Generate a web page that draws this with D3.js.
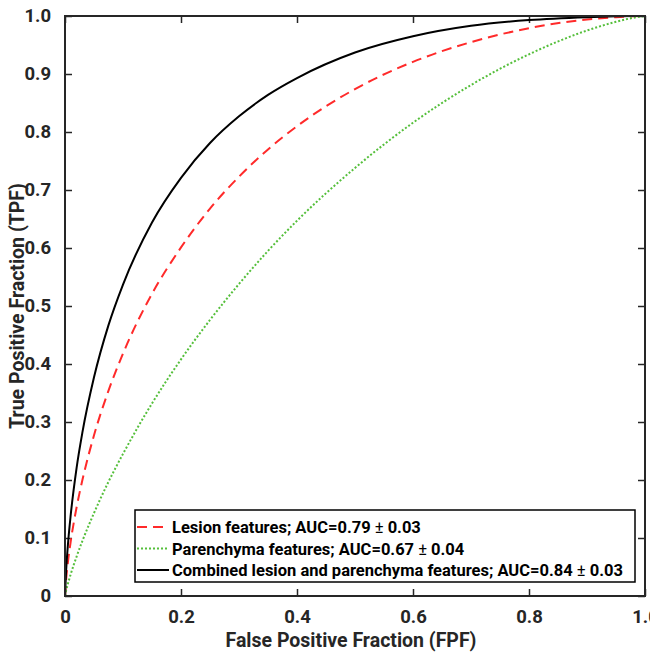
<!DOCTYPE html>
<html>
<head>
<meta charset="utf-8">
<script src="https://cdn.jsdelivr.net/npm/d3@7"></script>
<style>
  body { margin: 0; background: #fff; }
  svg { font-family: Roboto, "Liberation Sans", sans-serif; font-weight: bold; }
</style>
</head>
<body>
<svg id="chart" width="650" height="652"></svg>
<script>
// False positive fraction sample points
var fpf = [0, 0.002, 0.005, 0.01, 0.02, 0.03, 0.05, 0.075, 0.1, 0.15, 0.2, 0.25,
           0.3, 0.35, 0.4, 0.5, 0.6, 0.7, 0.8, 0.9, 0.95, 0.98, 1.0];

// True positive fraction for each curve
var lesionTpf = [0, 0.029, 0.058, 0.095, 0.153, 0.200, 0.277, 0.354, 0.418, 0.521, 0.601, 0.668,
                 0.723, 0.770, 0.810, 0.874, 0.921, 0.955, 0.979, 0.994, 0.998, 0.9995, 1.0];
var parenchymaTpf = [0, 0.010, 0.021, 0.038, 0.068, 0.095, 0.143, 0.197, 0.245, 0.332, 0.408, 0.476,
                     0.538, 0.595, 0.647, 0.738, 0.816, 0.881, 0.934, 0.975, 0.990, 0.997, 1.0];
var combinedTpf = [0, 0.045, 0.088, 0.141, 0.221, 0.282, 0.377, 0.467, 0.537, 0.644, 0.721, 0.781,
                   0.827, 0.864, 0.893, 0.937, 0.965, 0.983, 0.993, 0.998, 0.9995, 1.0, 1.0];

var seriesNames = ["Lesion features; AUC=0.79", "Parenchyma features; AUC=0.67",
                   "Combined lesion and parenchyma features; AUC=0.84"];
var seriesErr = ["0.03", "0.04", "0.03"];
var seriesColors = ["#ff2a2a", "#55bf3b", "#000000"];
var seriesDash = ["10,6", "2,2", null];

var tickValues = [0, 0.1, 0.2, 0.3, 0.4, 0.5, 0.6, 0.7, 0.8, 0.9, 1.0];
var xTickValues = [0, 0.2, 0.4, 0.6, 0.8, 1.0];

// plot box
var plotLeft = 65, plotRight = 645, plotTop = 16, plotBottom = 596;

var svg = d3.select("#chart");

var x = d3.scaleLinear().domain([0, 1]).range([plotLeft, plotRight]);
var y = d3.scaleLinear().domain([0, 1]).range([plotBottom, plotTop]);

var fmt = function(d) { return d === 0 ? "0" : d3.format(".1f")(d); };

function styleLabels(g) {
    g.select(".domain").remove();
    g.selectAll("text")
        .attr("font-size", 18.5)
        .attr("font-weight", "bold")
        .attr("font-family", "Roboto")
        .attr("fill", "#262626");
}

// axes with inward ticks on all four sides
svg.append("g")
    .attr("transform", "translate(0," + plotBottom + ")")
    .call(d3.axisBottom(x).tickValues(xTickValues).tickSizeInner(-7).tickSizeOuter(0).tickPadding(14).tickFormat(fmt))
    .call(styleLabels);

svg.append("g")
    .attr("transform", "translate(0," + plotTop + ")")
    .call(d3.axisTop(x).tickValues(xTickValues).tickSizeInner(-7).tickSizeOuter(0).tickFormat(""))
    .call(function(g) { g.select(".domain").remove(); });

svg.append("g")
    .attr("transform", "translate(" + plotLeft + ",0)")
    .call(d3.axisLeft(y).tickValues(tickValues).tickSizeInner(-7).tickSizeOuter(0).tickPadding(14).tickFormat(fmt))
    .call(styleLabels);

svg.append("g")
    .attr("transform", "translate(" + plotRight + ",0)")
    .call(d3.axisRight(y).tickValues(tickValues).tickSizeInner(-7).tickSizeOuter(0).tickFormat(""))
    .call(function(g) { g.select(".domain").remove(); });

svg.selectAll(".tick line").attr("stroke", "#262626").attr("stroke-width", 1.5);

// curves
var line = d3.line()
    .x(function(d) { return x(d[0]); })
    .y(function(d) { return y(d[1]); })
    .curve(d3.curveMonotoneX);

var allTpf = [lesionTpf, parenchymaTpf, combinedTpf];

allTpf.forEach(function(tpf, i) {
    var pts = fpf.map(function(f, j) { return [f, tpf[j]]; });
    svg.append("path")
        .datum(pts)
        .attr("d", line)
        .attr("fill", "none")
        .attr("stroke", seriesColors[i])
        .attr("stroke-width", 2)
        .attr("stroke-dasharray", seriesDash[i]);
});

// box
svg.append("rect")
    .attr("x", plotLeft).attr("y", plotTop)
    .attr("width", plotRight - plotLeft).attr("height", plotBottom - plotTop)
    .attr("fill", "none")
    .attr("stroke", "#262626")
    .attr("stroke-width", 2);

// axis titles
svg.append("text")
    .attr("x", 351)
    .attr("y", 647)
    .attr("text-anchor", "middle")
    .attr("font-size", 19.5)
    .attr("fill", "#262626")
    .text("False Positive Fraction (FPF)");

svg.append("text")
    .attr("transform", "translate(24," + ((plotTop + plotBottom) / 2) + ") rotate(-90)")
    .attr("text-anchor", "middle")
    .attr("font-size", 19.5)
    .attr("fill", "#262626")
    .text("True Positive Fraction (TPF)");

// legend
var legend = svg.append("g").attr("transform", "translate(135,510)");

legend.append("rect")
    .attr("width", 500).attr("height", 72)
    .attr("fill", "#fff")
    .attr("stroke", "#000")
    .attr("stroke-width", 1.5);

seriesNames.forEach(function(name, i) {
    var ry = 17 + i * 21.5;
    legend.append("line")
        .attr("x1", 2).attr("x2", 34)
        .attr("y1", ry).attr("y2", ry)
        .attr("stroke", seriesColors[i])
        .attr("stroke-width", 2)
        .attr("stroke-dasharray", seriesDash[i]);
    var t = legend.append("text")
        .attr("x", 37).attr("y", ry + 6)
        .attr("font-size", 16.5)
        .attr("fill", "#000");
    t.append("tspan").text(name + " ");
    t.append("tspan").attr("font-weight", "normal").text("\u00b1");
    t.append("tspan").text(" " + seriesErr[i]);
});
</script>
</body>
</html>
